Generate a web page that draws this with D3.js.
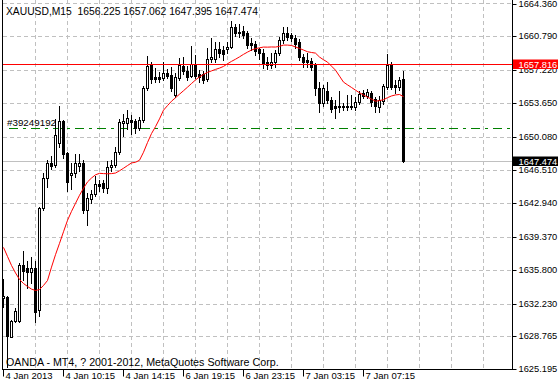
<!DOCTYPE html>
<html>
<head>
<meta charset="utf-8">
<script src="https://cdn.jsdelivr.net/npm/d3@7"></script>
<style>
  body { margin: 0; background: #fff; }
  svg { display: block; }
  text { font-family: "Liberation Sans", Arial, sans-serif; }
</style>
</head>
<body>
<svg id="chart" width="558" height="387"></svg>
<script>
// XAUUSD M15 — bars, one value per bar
const barOpen = [
  1632.8, 1632.9, 1628.7, 1630.4, 1630.4, 1636.4, 1636.0, 1635.6, 1636.0, 1631.5,
  1642.4, 1645.6, 1647.2, 1647.0, 1649.4, 1651.7, 1648.3, 1646.0, 1646.2, 1646.9,
  1647.3, 1642.2, 1643.4, 1643.9, 1645.0, 1645.1, 1644.6, 1646.8, 1647.0, 1648.4,
  1651.5, 1651.5, 1651.9, 1651.7, 1651.0, 1651.8, 1655.3, 1657.8, 1656.4, 1656.4,
  1656.3, 1656.9, 1656.7, 1654.5, 1656.3, 1657.6, 1657.1, 1656.6, 1657.7, 1656.8,
  1656.8, 1656.2, 1658.4, 1658.4, 1659.4, 1659.3, 1659.4, 1659.7, 1661.8, 1661.3,
  1661.4, 1661.1, 1660.1, 1660.0, 1659.4, 1659.0, 1658.0, 1657.7, 1658.0, 1659.0,
  1660.4, 1661.2, 1660.9, 1660.6, 1660.2, 1658.6, 1658.3, 1658.2, 1657.7, 1655.3,
  1653.7, 1655.0, 1654.0, 1653.3, 1653.2, 1653.3, 1653.4, 1653.2, 1653.2, 1653.8,
  1654.7, 1654.4, 1654.7, 1654.1, 1653.2, 1653.9, 1655.4, 1657.7, 1655.6, 1655.4,
  1656.225
];
const barHigh = [
  1634.9, 1633.0, 1630.5, 1631.8, 1636.6, 1637.8, 1636.8, 1637.2, 1636.8, 1642.6,
  1646.2, 1647.6, 1648.0, 1652.0, 1653.3, 1651.9, 1648.4, 1647.2, 1648.2, 1648.2,
  1647.6, 1644.0, 1644.4, 1645.9, 1645.4, 1645.4, 1647.5, 1647.6, 1649.0, 1652.0,
  1652.5, 1652.9, 1652.4, 1652.0, 1652.2, 1655.5, 1658.7, 1658.0, 1657.4, 1657.0,
  1658.0, 1657.3, 1657.5, 1656.9, 1658.5, 1658.6, 1657.6, 1659.8, 1658.8, 1657.2,
  1657.1, 1659.5, 1660.6, 1660.2, 1660.2, 1659.8, 1660.2, 1662.4, 1662.1, 1662.1,
  1661.9, 1661.4, 1660.6, 1660.3, 1659.6, 1659.4, 1658.6, 1659.0, 1659.3, 1660.7,
  1661.8, 1661.8, 1661.2, 1660.9, 1660.5, 1658.9, 1659.0, 1658.5, 1657.9, 1655.9,
  1655.6, 1655.9, 1654.3, 1654.0, 1655.0, 1653.7, 1654.5, 1654.5, 1654.3, 1655.0,
  1655.1, 1655.2, 1655.0, 1654.3, 1654.4, 1655.7, 1658.9, 1658.0, 1656.1, 1656.4,
  1657.062
];
const barLow = [
  1631.9, 1625.4, 1628.6, 1630.2, 1630.2, 1634.7, 1633.9, 1634.4, 1630.2, 1630.9,
  1642.2, 1644.7, 1646.6, 1646.8, 1649.0, 1647.8, 1644.3, 1644.5, 1645.8, 1646.4,
  1641.9, 1640.6, 1643.0, 1643.7, 1644.3, 1644.2, 1644.0, 1646.4, 1646.8, 1648.2,
  1650.1, 1650.9, 1650.4, 1650.5, 1650.8, 1651.6, 1655.1, 1655.8, 1655.9, 1655.9,
  1656.1, 1656.3, 1655.0, 1654.3, 1656.1, 1656.8, 1656.1, 1656.4, 1656.3, 1655.9,
  1655.8, 1656.0, 1658.0, 1658.1, 1658.6, 1658.3, 1659.0, 1659.5, 1660.8, 1660.7,
  1660.6, 1659.6, 1659.3, 1658.8, 1658.4, 1657.4, 1657.3, 1657.4, 1657.5, 1658.8,
  1660.1, 1660.4, 1660.3, 1659.6, 1658.3, 1657.5, 1657.5, 1657.2, 1654.5, 1652.7,
  1653.4, 1653.7, 1652.7, 1652.1, 1652.7, 1652.9, 1652.9, 1653.0, 1652.9, 1653.6,
  1654.2, 1654.2, 1653.3, 1652.7, 1652.7, 1653.6, 1655.2, 1655.2, 1654.7, 1655.1,
  1647.395
];
const barClose = [
  1633.0, 1628.8, 1630.4, 1631.4, 1636.4, 1635.7, 1635.6, 1636.0, 1631.3, 1642.4,
  1645.6, 1647.2, 1646.9, 1650.2, 1651.7, 1648.2, 1645.2, 1646.2, 1647.3, 1647.2,
  1642.2, 1643.5, 1643.9, 1645.0, 1644.8, 1644.6, 1646.8, 1647.0, 1648.4, 1651.6,
  1651.7, 1652.1, 1651.6, 1651.0, 1651.8, 1655.3, 1657.6, 1656.2, 1656.2, 1656.2,
  1656.9, 1656.6, 1655.3, 1656.4, 1657.7, 1657.1, 1656.4, 1657.8, 1656.6, 1656.4,
  1656.1, 1658.4, 1658.6, 1659.4, 1659.0, 1658.9, 1659.7, 1661.8, 1661.1, 1661.1,
  1660.9, 1659.9, 1659.9, 1659.2, 1659.0, 1657.8, 1657.7, 1658.0, 1659.0, 1660.4,
  1661.2, 1660.7, 1660.6, 1660.0, 1658.6, 1658.0, 1658.0, 1657.5, 1655.3, 1653.7,
  1655.3, 1654.0, 1653.0, 1653.1, 1653.3, 1653.2, 1653.2, 1653.4, 1653.8, 1654.6,
  1654.4, 1654.8, 1653.8, 1653.4, 1654.0, 1655.5, 1657.7, 1655.4, 1655.4, 1656.1,
  1647.474
];
// red moving average, one value per bar
const maValues = [
  1638.23, 1637.26, 1636.30, 1635.50, 1634.80, 1634.37, 1634.05, 1633.77, 1633.62, 1633.73,
  1634.16, 1634.69, 1636.12, 1637.45, 1638.66, 1639.90, 1641.12, 1642.08, 1642.94, 1643.80,
  1644.55, 1645.23, 1645.65, 1645.99, 1646.15, 1646.12, 1646.10, 1646.12, 1646.18, 1646.42,
  1646.69, 1646.98, 1647.26, 1647.33, 1647.55, 1648.40, 1649.44, 1650.40, 1651.14, 1651.97,
  1652.90, 1653.39, 1653.86, 1654.23, 1654.61, 1654.98, 1655.36, 1655.75, 1656.13, 1656.46,
  1656.72, 1656.94, 1657.10, 1657.26, 1657.40, 1657.58, 1657.86, 1658.12, 1658.35, 1658.60,
  1658.87, 1659.11, 1659.33, 1659.48, 1659.57, 1659.65, 1659.64, 1659.66, 1659.65, 1659.73,
  1659.86, 1659.86, 1659.82, 1659.66, 1659.50, 1659.33, 1659.15, 1659.07, 1659.00, 1658.58,
  1658.29, 1658.04, 1657.61, 1657.18, 1656.54, 1655.90, 1655.61, 1655.33, 1655.04, 1654.76,
  1654.53, 1654.29, 1654.08, 1653.86, 1653.93, 1654.02, 1654.24, 1654.42, 1654.53, 1654.58,
  1654.35
];

const priceTicks = [1664.360, 1660.790, 1657.220, 1653.650, 1650.080, 1646.510,
                    1642.940, 1639.370, 1635.800, 1632.230, 1628.765, 1625.195];
const timeTickBars = [0, 15, 30, 45, 60, 75, 90];
const timeTickLabels = ['4 Jan 2013', '4 Jan 10:15', '4 Jan 14:15', '6 Jan 19:15',
                        '6 Jan 23:15', '7 Jan 03:15', '7 Jan 07:15'];

const symbolTitle = 'XAUUSD,M15  1656.225 1657.062 1647.395 1647.474';
const copyright = 'OANDA - MT4, ? 2001-2012, MetaQuotes Software Corp.';
const bidPrice = 1647.474;
const redLinePrice = 1657.816;
const orderPrice = 1651.0;
const orderLabel = '#39249192';

const W = 558, H = 387;
const plotLeft = 3, plotRight = 512, plotTop = 3, plotBottom = 369.3;
const axisFont = 9.3;

const svg = d3.select('#chart');
svg.append('rect').attr('width', W).attr('height', H).attr('fill', '#fff');

// 4 px per bar, scale runs on past the last bar to the price axis
const x = d3.scaleLinear().domain([0, (plotRight - plotLeft) / 4]).range([plotLeft, plotRight]);
const y = d3.scaleLinear().domain([priceTicks[priceTicks.length - 1], priceTicks[0]]).range([plotBottom, plotTop]);
const px = v => Math.round(x(v));
const py = v => Math.round(y(v));
const baseY = Math.round(plotBottom);

const plot = svg.append('g');

// grid
const gridCol = '#c0c0c0';
plot.append('g').selectAll('line').data(priceTicks).enter().append('line')
  .attr('x1', plotLeft).attr('x2', plotRight)
  .attr('y1', d => py(d) + 0.5).attr('y2', d => py(d) + 0.5)
  .attr('stroke', gridCol).attr('stroke-dasharray', '4,3');
plot.append('g').selectAll('line').data(d3.range(8, (plotRight - plotLeft) / 4, 8)).enter().append('line')
  .attr('x1', d => px(d) + 0.5).attr('x2', d => px(d) + 0.5)
  .attr('y1', 0).attr('y2', baseY)
  .attr('stroke', gridCol).attr('stroke-dasharray', '4,3');

// bid line
plot.append('line')
  .attr('x1', plotLeft).attr('x2', plotRight)
  .attr('y1', py(bidPrice) + 0.5).attr('y2', py(bidPrice) + 0.5)
  .attr('stroke', '#c0c0c0');

// order line
plot.append('line')
  .attr('x1', plotLeft + 6).attr('x2', plotRight)
  .attr('y1', py(orderPrice) + 0.5).attr('y2', py(orderPrice) + 0.5)
  .attr('stroke', '#008000').attr('stroke-dasharray', '9,5,3,5');
plot.append('text')
  .attr('x', 7).attr('y', py(orderPrice) - 2)
  .attr('font-size', 9.8).attr('fill', '#000')
  .text(orderLabel);

// candles
const bars = d3.range(barOpen.length);
const cg = plot.append('g').attr('shape-rendering', 'crispEdges');
cg.selectAll('line').data(bars).enter().append('line')
  .attr('x1', i => px(i) + 0.5).attr('x2', i => px(i) + 0.5)
  .attr('y1', i => py(barHigh[i])).attr('y2', i => py(barLow[i]) + 1)
  .attr('stroke', '#000');
cg.selectAll('rect').data(bars).enter().append('rect')
  .each(function (i) {
    const up = barClose[i] >= barOpen[i];
    const yt = py(Math.max(barOpen[i], barClose[i]));
    const yb = py(Math.min(barOpen[i], barClose[i]));
    const r = d3.select(this);
    if (up) {
      r.attr('x', px(i) - 0.5).attr('width', 2)
       .attr('y', yt + 0.5).attr('height', Math.max(yb - yt, 1))
       .attr('fill', '#fff').attr('stroke', '#000');
    } else {
      r.attr('x', px(i) - 1).attr('width', 3)
       .attr('y', yt).attr('height', Math.max(yb - yt, 1) + 1)
       .attr('fill', '#000');
    }
  });

// moving average
plot.append('path')
  .datum(maValues)
  .attr('fill', 'none').attr('stroke', '#ff0000').attr('stroke-width', 1)
  .attr('d', d3.line().x((d, i) => x(i) + 0.5).y(d => y(d)));

// red horizontal level
plot.append('line')
  .attr('x1', plotLeft).attr('x2', plotRight)
  .attr('y1', py(redLinePrice) + 0.5).attr('y2', py(redLinePrice) + 0.5)
  .attr('stroke', '#ff0000');

// price axis
const yAxis = d3.axisRight(y).tickValues(priceTicks).tickSize(4).tickPadding(2)
  .tickFormat(d3.format('.3f'));
svg.append('g').attr('transform', `translate(${plotRight + 0.5},0)`)
  .call(yAxis)
  .call(g => g.select('.domain').remove())
  .call(g => g.selectAll('.tick').attr('transform', d => `translate(0,${Math.max(py(d), 4) + 0.5})`))
  .call(g => g.selectAll('text').attr('font-family', '"Liberation Sans", Arial, sans-serif')
    .attr('font-size', axisFont).attr('fill', '#000'))
  .call(g => g.selectAll('line').attr('stroke', '#000'));

// time axis
const xAxis = d3.axisBottom(x).tickValues(timeTickBars).tickSize(7)
  .tickFormat((d, i) => timeTickLabels[i]);
svg.append('g').attr('transform', `translate(0,${baseY + 0.5})`)
  .call(xAxis)
  .call(g => g.select('.domain').remove())
  .call(g => g.selectAll('.tick').attr('transform', d => `translate(${px(d) + 0.5},0)`))
  .call(g => g.selectAll('line').attr('stroke', '#000'))
  .call(g => g.selectAll('text').attr('font-family', '"Liberation Sans", Arial, sans-serif')
    .attr('font-size', 9.5).attr('fill', '#000')
    .attr('text-anchor', 'start').attr('x', 2).attr('y', 3).attr('dy', '0.71em'));

// price tags
function tag(price, bg) {
  const yy = py(price);
  svg.append('rect').attr('x', plotRight + 1).attr('y', yy - 4.5).attr('width', W - plotRight - 1).attr('height', 9.5)
    .attr('fill', bg);
  svg.append('text').attr('x', plotRight + 6.5).attr('y', yy + 0.5).attr('dy', '0.35em')
    .attr('font-size', axisFont).attr('fill', '#fff').text(d3.format('.3f')(price));
}
tag(redLinePrice, '#ff0000');
tag(bidPrice, '#000');

// frame
const frame = svg.append('g').attr('stroke', '#000').attr('shape-rendering', 'crispEdges');
frame.append('line').attr('x1', 2.5).attr('x2', 2.5).attr('y1', 0).attr('y2', baseY + 1);
frame.append('line').attr('x1', plotRight + 0.5).attr('x2', plotRight + 0.5).attr('y1', 0).attr('y2', baseY + 1);
frame.append('line').attr('x1', 2).attr('x2', plotRight + 1).attr('y1', baseY + 0.5).attr('y2', baseY + 0.5);

// labels
svg.append('text').attr('x', 6).attr('y', 15).attr('font-size', 10.3).attr('fill', '#000')
  .style('white-space', 'pre').text(symbolTitle);
svg.append('text').attr('x', 6).attr('y', 366).attr('font-size', 10.7).attr('fill', '#000')
  .text(copyright);
</script>
</body>
</html>
